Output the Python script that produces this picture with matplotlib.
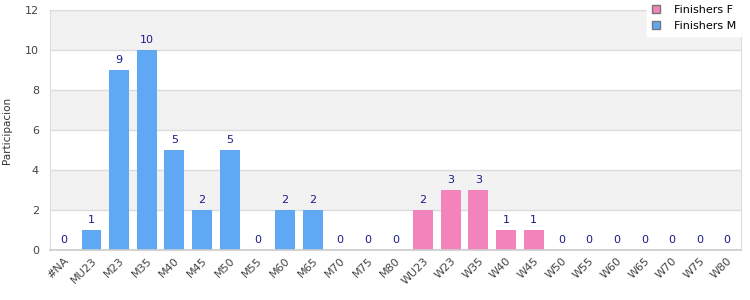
import matplotlib.pyplot as plt
import numpy as np

categories = ['#NA', 'MU23', 'M23', 'M35', 'M40', 'M45', 'M50', 'M55', 'M60', 'M65',
              'M70', 'M75', 'M80', 'WU23', 'W23', 'W35', 'W40', 'W45', 'W50', 'W55',
              'W60', 'W65', 'W70', 'W75', 'W80']
finishers_m = [0, 1, 9, 10, 5, 2, 5, 0, 2, 2, 0, 0, 0,
               0, 0, 0, 0, 0, 0, 0, 0, 0, 0, 0, 0]
finishers_f = [0, 0, 0, 0, 0, 0, 0, 0, 0, 0, 0, 0, 0,
               2, 3, 3, 1, 1, 0, 0, 0, 0, 0, 0, 0]

blue = '#5fa8f3'
pink = '#f283bb'

fig = plt.figure(figsize=(7.5, 3), dpi=100)
ax = fig.add_axes([50 / 750, 50 / 300, 691 / 750, 240 / 300])

x = np.arange(len(categories))
m = np.array(finishers_m)
f = np.array(finishers_f)

# alternating background bands
for lo in (2, 6, 10):
    ax.axhspan(lo, lo + 2, color='#f2f2f2', zorder=0, lw=0)

ax.bar(x, m, width=0.72, color=blue, zorder=2, label='Finishers M')
ax.bar(x, f, width=0.72, bottom=m, color=pink, zorder=2, label='Finishers F')

for xi, tot in zip(x, m + f):
    ax.text(xi, tot + 0.25, str(tot), ha='center', va='bottom', fontsize=8,
            color='#1a1a8c', zorder=3)

ax.set_xlim(-0.5, len(categories) - 0.5)
ax.set_ylim(0, 12)
ax.set_yticks([0, 2, 4, 6, 8, 10, 12])
ax.yaxis.grid(True, color='#dcdcdc', lw=1, zorder=1)
ax.set_axisbelow(True)
ax.set_xticks(x)
ax.set_xticklabels(categories, rotation=45, ha='right', rotation_mode='anchor',
                   fontsize=8, color='#444444')
ax.tick_params(axis='y', labelsize=8, colors='#444444', length=0, pad=8)
ax.tick_params(axis='x', length=0, pad=4)
for s in ax.spines.values():
    s.set_color('#dcdcdc')
ax.spines['bottom'].set_color('#cccccc')
ax.spines['bottom'].set_linewidth(1.2)

fig.text(2 / 750, 1 - 130 / 300, 'Participacion', rotation=90, va='center', ha='left',
         fontsize=7.5, color='#333333')

handles, labels = ax.get_legend_handles_labels()
leg = fig.legend(handles[::-1], labels[::-1], loc='upper right',
                 bbox_to_anchor=(741 / 750, 1.0), fontsize=8, frameon=True,
                 fancybox=False, framealpha=1, edgecolor='white',
                 handlelength=0.75, handleheight=0.75, borderpad=0.45,
                 labelspacing=0.55, handletextpad=1.2, borderaxespad=0)
for h in leg.legend_handles:
    h.set_edgecolor('#777777')
    h.set_linewidth(1)

fig.savefig('out.png', dpi=100)
